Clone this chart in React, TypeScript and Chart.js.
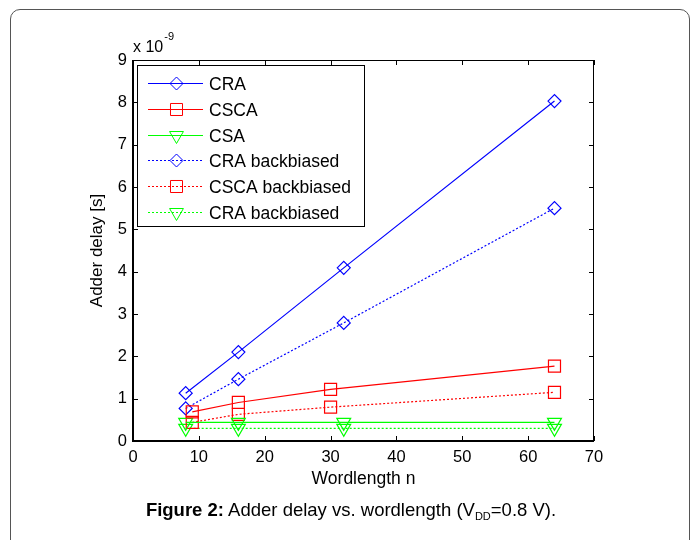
import React, { useEffect, useRef } from "react";
import { Chart, registerables } from "chart.js";

Chart.register(...registerables);

// ---- data (delays in units of 1e-9 s) ----
const craN = [8, 16, 32, 64];
const craDelay = [1.13, 2.1, 4.09, 8.03];
const cscaN = [9, 16, 30, 64];
const cscaDelay = [0.69, 0.91, 1.22, 1.77];
const csaN = [8, 16, 32, 64];
const csaDelay = [0.44, 0.44, 0.44, 0.44];
const craBbN = [8, 16, 32, 64];
const craBbDelay = [0.77, 1.46, 2.79, 5.5];
const cscaBbN = [9, 16, 30, 64];
const cscaBbDelay = [0.44, 0.63, 0.8, 1.15];
const csaBbN = [8, 16, 32, 64];
const csaBbDelay = [0.3, 0.3, 0.3, 0.3];

const seriesLabels = [
  "CRA",
  "CSCA",
  "CSA",
  "CRA backbiased",
  "CSCA backbiased",
  "CRA backbiased",
];
const xTicks = [0, 10, 20, 30, 40, 50, 60, 70];
const yTicks = [0, 1, 2, 3, 4, 5, 6, 7, 8, 9];

const FONT = "'Liberation Sans', Arial, Helvetica, sans-serif";

const pts = (xs: number[], ys: number[]) => xs.map((x, i) => ({ x, y: ys[i] }));

type MarkerStyle = "rectRot" | "rect" | "triangle";

function drawMarker(
  ctx: CanvasRenderingContext2D,
  style: MarkerStyle,
  x: number,
  y: number,
  r: number,
  rotationDeg: number
) {
  ctx.beginPath();
  if (style === "rectRot") {
    ctx.moveTo(x - r, y);
    ctx.lineTo(x, y - r);
    ctx.lineTo(x + r, y);
    ctx.lineTo(x, y + r);
    ctx.closePath();
  } else if (style === "rect") {
    const s = Math.SQRT1_2 * r;
    ctx.rect(x - s, y - s, 2 * s, 2 * s);
  } else {
    let rad = (rotationDeg * Math.PI) / 180;
    const step = (2 * Math.PI) / 3;
    ctx.moveTo(x + Math.sin(rad) * r, y - Math.cos(rad) * r);
    rad += step;
    ctx.lineTo(x + Math.sin(rad) * r, y - Math.cos(rad) * r);
    rad += step;
    ctx.lineTo(x + Math.sin(rad) * r, y - Math.cos(rad) * r);
    ctx.closePath();
  }
  ctx.stroke();
}

const matlabPlugin = {
  id: "matlabFrame",
  afterDraw(chart: any) {
    const { ctx, chartArea: a, scales } = chart;
    const xs = scales.x;
    const ys = scales.y;
    ctx.save();

    // axes box
    ctx.strokeStyle = "#000";
    ctx.lineWidth = 1;
    ctx.beginPath();
    ctx.moveTo(a.left, a.top + 0.5);
    ctx.lineTo(a.right, a.top + 0.5);
    ctx.moveTo(a.right - 0.5, a.top);
    ctx.lineTo(a.right - 0.5, a.bottom);
    ctx.stroke();
    ctx.lineWidth = 2;
    ctx.beginPath();
    ctx.moveTo(a.left, a.top);
    ctx.lineTo(a.left, a.bottom);
    ctx.lineTo(a.right, a.bottom);
    ctx.stroke();

    // inward ticks
    const tl = 5;
    ctx.lineWidth = 1;
    ctx.beginPath();
    xTicks.forEach((v) => {
      const px = Math.round(xs.getPixelForValue(v)) + 0.5;
      ctx.moveTo(px, a.bottom);
      ctx.lineTo(px, a.bottom - tl);
      ctx.moveTo(px, a.top);
      ctx.lineTo(px, a.top + tl);
    });
    yTicks.forEach((v) => {
      const py = Math.round(ys.getPixelForValue(v)) + 0.5;
      ctx.moveTo(a.left, py);
      ctx.lineTo(a.left + tl, py);
      ctx.moveTo(a.right, py);
      ctx.lineTo(a.right - tl, py);
    });
    ctx.stroke();

    // exponent label
    ctx.fillStyle = "#000";
    ctx.textBaseline = "alphabetic";
    ctx.textAlign = "left";
    ctx.font = `16px ${FONT}`;
    const base = "x 10";
    ctx.fillText(base, a.left, a.top - 8.5);
    const w = ctx.measureText(base).width;
    ctx.font = `11px ${FONT}`;
    ctx.fillText("-9", a.left + w + 1, a.top - 20);

    // legend
    const lx = a.left + 4;
    const ly = a.top + 5;
    const lw = 227;
    const lh = 161;
    ctx.fillStyle = "#fff";
    ctx.fillRect(lx, ly, lw, lh);
    ctx.strokeStyle = "#000";
    ctx.lineWidth = 1;
    ctx.strokeRect(lx + 0.5, ly + 0.5, lw, lh);
    chart.data.datasets.forEach((ds: any, i: number) => {
      const cy = Math.round(ly + 18 + i * 25.8) + 0.5;
      ctx.strokeStyle = ds.borderColor;
      ctx.lineWidth = 1;
      ctx.setLineDash(ds.borderDash || []);
      ctx.beginPath();
      ctx.moveTo(lx + 11, cy);
      ctx.lineTo(lx + 66, cy);
      ctx.stroke();
      ctx.setLineDash([]);
      drawMarker(ctx, ds.pointStyle, lx + 39.5, cy, ds.pointRadius, ds.pointRotation || 0);
      ctx.fillStyle = "#000";
      ctx.font = `17.5px ${FONT}`;
      ctx.fillText(ds.label, lx + 72, cy + 6);
    });

    ctx.restore();
  },
};

export default function App() {
  const ref = useRef<HTMLCanvasElement>(null);

  useEffect(() => {
    if (!ref.current) return;
    Chart.defaults.font.family = FONT;
    const mk = (
      label: string,
      xsArr: number[],
      ysArr: number[],
      color: string,
      dotted: boolean,
      style: MarkerStyle,
      radius: number,
      rotation = 0
    ) => ({
      label,
      data: pts(xsArr, ysArr),
      borderColor: color,
      backgroundColor: color,
      borderWidth: 1.2,
      borderDash: dotted ? [2, 2] : [],
      pointStyle: style,
      pointRadius: radius,
      pointRotation: rotation,
      pointBorderColor: color,
      pointBackgroundColor: "rgba(0,0,0,0)",
      pointBorderWidth: 1.2,
      showLine: true,
      tension: 0,
      fill: false,
    });

    const chart = new Chart(ref.current, {
      type: "line",
      data: {
        datasets: [
          mk(seriesLabels[0], craN, craDelay, "#0000ff", false, "rectRot", 6.5),
          mk(seriesLabels[1], cscaN, cscaDelay, "#ff0000", false, "rect", 8.5),
          mk(seriesLabels[2], csaN, csaDelay, "#00ff00", false, "triangle", 8, 180),
          mk(seriesLabels[3], craBbN, craBbDelay, "#0000ff", true, "rectRot", 6.5),
          mk(seriesLabels[4], cscaBbN, cscaBbDelay, "#ff0000", true, "rect", 8.5),
          mk(seriesLabels[5], csaBbN, csaBbDelay, "#00ff00", true, "triangle", 8, 180),
        ] as any,
      },
      options: {
        responsive: false,
        animation: false,
        devicePixelRatio: 1,
        layout: { padding: { left: 84, right: 101, top: 60, bottom: 47 } },
        plugins: {
          legend: { display: false },
          tooltip: { enabled: false },
        },
        scales: {
          x: {
            type: "linear",
            min: 0,
            max: 70,
            afterBuildTicks: (s: any) => {
              s.ticks = xTicks.map((v) => ({ value: v }));
            },
            ticks: {
              color: "#000",
              font: { size: 16.5 },
              padding: 7,
              maxRotation: 0,
              autoSkip: false,
            },
            grid: { display: false, drawTicks: false },
            border: { display: false },
            title: {
              display: true,
              text: "Wordlength n",
              color: "#000",
              font: { size: 17.5 },
              padding: { top: 2, bottom: 3 },
            },
            afterFit: (s: any) => {
              s.height = 52;
            },
          },
          y: {
            type: "linear",
            min: 0,
            max: 9,
            afterBuildTicks: (s: any) => {
              s.ticks = yTicks.map((v) => ({ value: v }));
            },
            ticks: {
              color: "#000",
              font: { size: 16.5 },
              padding: 6,
              autoSkip: false,
            },
            grid: { display: false, drawTicks: false },
            border: { display: false },
            title: {
              display: true,
              text: "Adder delay [s]",
              color: "#000",
              font: { size: 17 },
              padding: { top: 3, bottom: 4 },
            },
            afterFit: (s: any) => {
              s.width = 49;
            },
          },
        },
      } as any,
      plugins: [matlabPlugin],
    });
    return () => chart.destroy();
  }, []);

  return (
    <div
      style={{
        position: "fixed",
        left: 0,
        top: 0,
        width: 695,
        height: 540,
        overflow: "hidden",
        background: "#fff",
        fontFamily: FONT,
        color: "#000",
      }}
    >
      <div
        style={{
          position: "absolute",
          left: 10,
          top: 9,
          width: 680,
          height: 600,
          border: "1.5px solid #555",
          borderRadius: 10,
          boxSizing: "border-box",
        }}
      />
      <canvas
        ref={ref}
        width={695}
        height={540}
        style={{ position: "absolute", left: 0, top: 0, width: 695, height: 540 }}
      />
      <div
        style={{
          position: "absolute",
          left: 0,
          top: 499,
          width: 702,
          textAlign: "center",
          fontSize: 18.5,
          lineHeight: "21px",
          whiteSpace: "nowrap",
        }}
      >
        <b>Figure 2:</b> Adder delay vs. wordlength (V
        <sub style={{ fontSize: 11, lineHeight: 0, verticalAlign: "-4px" }}>DD</sub>
        =0.8 V).
      </div>
    </div>
  );
}
